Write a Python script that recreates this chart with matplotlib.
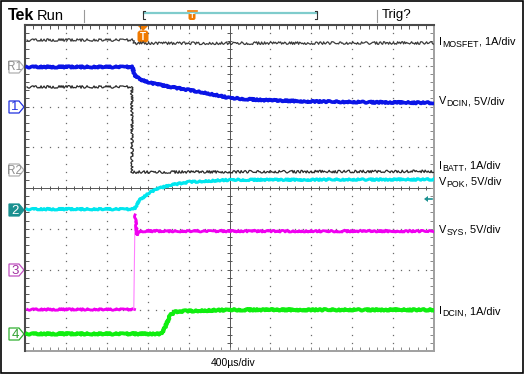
import matplotlib
matplotlib.use('Agg')
import matplotlib.pyplot as plt
from matplotlib.patches import Polygon, Rectangle, FancyBboxPatch

plt.rcParams['font.family'] = ['Liberation Sans', 'DejaVu Sans']

# ---- data (time in divisions, amplitude in divisions on 10x8 graticule) ----
t_mosfet = [0.05, 2.62, 2.68, 10.0]
v_mosfet = [7.63, 7.63, 7.55, 7.56]

t_vdcin = [0.05, 2.62, 2.69, 2.81, 3.06, 3.55, 4.28, 5.01, 5.75, 6.72, 7.95, 10.0]
v_vdcin = [6.97, 6.97, 6.75, 6.67, 6.58, 6.48, 6.36, 6.21, 6.16, 6.13, 6.11, 6.09]

t_ibatt = [0.05, 2.61, 2.62, 10.0]
v_ibatt = [6.48, 6.48, 4.39, 4.41]

t_vpok = [0.05, 2.67, 2.81, 3.06, 3.30, 3.55, 4.03, 5.01, 10.0]
v_vpok = [3.48, 3.48, 3.71, 3.90, 4.00, 4.07, 4.15, 4.20, 4.21]

t_vsys_pre = [0.05, 2.66]
v_vsys_pre = [1.03, 1.03]
t_vsys_edge = [2.66, 2.69]
v_vsys_edge = [1.03, 3.34]
t_vsys_post = [2.69, 2.74, 2.79, 10.0]
v_vsys_post = [3.34, 2.85, 2.94, 2.94]

t_idcin = [0.05, 3.35, 3.45, 3.55, 3.67, 3.91, 5.01, 10.0]
v_idcin = [0.42, 0.42, 0.64, 0.88, 0.96, 0.98, 1.01, 1.01]

label_main = ['I', 'V', 'I', 'V', 'V', 'I']
label_sub = ['MOSFET', 'DCIN', 'BATT', 'POK', 'SYS', 'DCIN']
label_scale = [', 1A/div', ', 5V/div', ', 1A/div', ', 5V/div', ', 5V/div', ', 1A/div']
label_y = [45, 104, 169, 185, 233, 314]

W, H = 525, 375
fig = plt.figure(figsize=(5.25, 3.75), dpi=100)
bg = fig.add_axes([0, 0, 1, 1])
bg.set_xlim(0, W); bg.set_ylim(H, 0); bg.axis('off')

L, T, R, B = 25, 25, 434, 351
ax = fig.add_axes([L / W, 1 - B / H, (R - L) / W, (B - T) / H])
ax.set_xlim(0, 10); ax.set_ylim(0, 8); ax.axis('off')

# outer frame
bg.add_patch(Rectangle((1, 1), 522, 372, fill=False, ec='black', lw=1.2))

# graticule
xs = [i * 0.2 for i in range(51)]
ys = [i * 0.2 for i in range(41)]
for k in range(1, 10):
    if k != 5:
        ax.plot([k] * len(ys), ys, ls='none', marker='s', ms=0.9, mew=0, color='#6a6a6a')
for j in range(1, 8):
    if j != 4:
        ax.plot(xs, [j] * len(xs), ls='none', marker='s', ms=0.9, mew=0, color='#6a6a6a')
ax.plot([5, 5], [0, 8], color='#555555', lw=0.7)
ax.plot([0, 10], [4, 4], color='#555555', lw=0.7)
ax.vlines(xs, 4 - 0.06, 4 + 0.06, color='#555555', lw=0.7)
ax.hlines(ys, 5 - 0.06, 5 + 0.06, color='#555555', lw=0.7)
# border ticks
ax.vlines(xs, 0, 0.1, color='#888888', lw=0.7)
ax.vlines(xs, 7.9, 8, color='#555555', lw=0.7)
ax.hlines(ys, 0, 0.1, color='#555555', lw=0.7)
ax.hlines(ys, 9.9, 10, color='#888888', lw=0.7)
ax.plot([0, 10], [0, 0], color='#a0a0a0', lw=1.4, clip_on=False)
ax.plot([10, 10], [0, 8], color='#a0a0a0', lw=1.4, clip_on=False)
ax.plot([0, 0], [0, 8], color='#4a4a4a', lw=1.5, clip_on=False)
ax.plot([0, 10], [8, 8], color='#4a4a4a', lw=1.5, clip_on=False)

def trace(t, v, color, lw, sk=(0.8, 1.5, 6), z=3):
    ln, = ax.plot(t, v, color=color, lw=lw, solid_joinstyle='round', zorder=z)
    if sk:
        ln.set_sketch_params(*sk)
    return ln

trace(t_mosfet, v_mosfet, '#3a3a3a', 0.9, (1.3, 1.5, 6))
trace(t_ibatt, v_ibatt, '#2a2a2a', 0.9, (1.3, 1.5, 6))
trace(t_vdcin, v_vdcin, '#0a14e6', 2.6)
trace(t_vpok, v_vpok, '#00e6ee', 2.2)
trace(t_vsys_pre, v_vsys_pre, '#f000f0', 2.0)
trace(t_vsys_edge, v_vsys_edge, '#ff80ff', 0.8, None)
trace(t_vsys_post, v_vsys_post, '#f000f0', 2.0)
trace(t_idcin, v_idcin, '#10ee10', 2.8)

# right labels with subscripts
for m, s, sc, y in zip(label_main, label_sub, label_scale, label_y):
    t1 = bg.text(439, y, m, fontsize=7.8, va='baseline', ha='left')
    t2 = bg.annotate(s, xy=(1, 0), xycoords=t1, xytext=(0.2, -1.6), textcoords='offset points',
                     fontsize=6.3, va='bottom', ha='left')
    bg.annotate(sc, xy=(1, 0), xycoords=t2, xytext=(0, 1.6), textcoords='offset points',
                fontsize=7.8, va='bottom', ha='left')

bg.text(233, 363, '400\u00b5s/div', fontsize=7.5, va='center', ha='center')

# header
bg.text(8, 16, 'Tek', fontsize=11.5, fontweight='bold', va='center', ha='left')
bg.text(37, 16, 'Run', fontsize=10.5, va='center', ha='left')
bg.text(382, 15, 'Trig?', fontsize=9.5, va='center', ha='left')
bg.plot([84, 84], [10, 22], color='#999999', lw=0.8)
bg.plot([377, 377], [10, 22], color='#999999', lw=0.8)
bg.plot([144, 317], [13, 13], color='#7fcccc', lw=1.6)
bg.plot([145, 143, 143, 145], [11, 11, 19, 19], color='#333333', lw=0.8)
bg.plot([315, 317, 317, 315], [11, 11, 19, 19], color='#333333', lw=0.8)
bg.add_patch(FancyBboxPatch((188.5, 12), 7, 8, boxstyle='round,pad=0,rounding_size=2',
                            fc='#f07a00', ec='none'))
bg.plot([187.5, 196.5], [11, 11], color='#f07a00', lw=1.2)
bg.text(192, 16.5, 'T', fontsize=5.5, color='white', ha='center', va='center', fontweight='bold')

# trigger position marker on graticule
bg.add_patch(Polygon([[137, 25], [149, 25], [143, 31]], closed=True, fc='#f07a00', ec='none'))
bg.add_patch(FancyBboxPatch((137.5, 30.5), 11, 12, boxstyle='round,pad=0,rounding_size=3',
                            fc='#f07a00', ec='none'))
bg.text(143, 37, 'T', fontsize=7, color='white', ha='center', va='center', fontweight='bold')

# trigger level arrow
bg.add_patch(Polygon([[424, 199], [428, 196], [428, 202]], closed=True, fc='#1a9090', ec='none'))
bg.plot([427, 432], [199, 199], color='#1a9090', lw=1.2)

# channel markers
def marker(y, txt, ec, fc, tc):
    pts = [[9, y - 6], [19, y - 6], [24, y], [19, y + 6], [9, y + 6]]
    bg.add_patch(Polygon(pts, closed=True, fc=fc, ec=ec, lw=0.9))
    bg.text(15, y + 0.5, txt, fontsize=8.5 if len(txt) > 1 else 9.5, color=tc,
            ha='center', va='center')

marker(67, 'R1', '#b0b0b0', 'white', '#909090')
marker(107, '1', '#2030e0', 'white', '#2030e0')
marker(170, 'R2', '#b0b0b0', 'white', '#909090')
marker(210, '2', '#1a9090', '#1a9090', 'white')
marker(270, '3', '#c050c0', 'white', '#a030a0')
marker(334, '4', '#30b030', 'white', '#30a030')

fig.savefig('out.png', dpi=100)
